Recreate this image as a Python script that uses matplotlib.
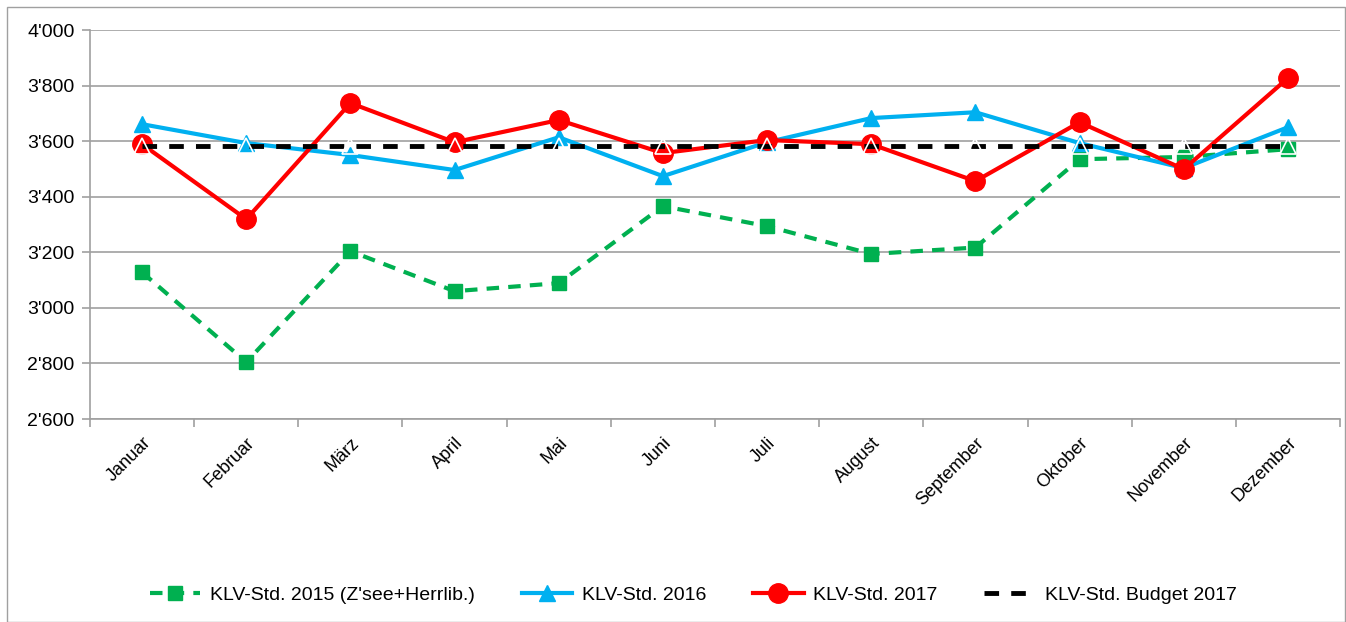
import matplotlib
matplotlib.use("Agg")
import matplotlib.pyplot as plt
from matplotlib.ticker import FuncFormatter, FixedLocator
from matplotlib.patches import Rectangle

plt.rcParams['font.family'] = ['Liberation Sans', 'DejaVu Sans']

# data
months = ["Januar", "Februar", "März", "April", "Mai", "Juni", "Juli",
          "August", "September", "Oktober", "November", "Dezember"]
std_2015 = [3128, 2805, 3204, 3060, 3089, 3366, 3294, 3194, 3217, 3535, 3543, 3571]
std_2016 = [3661, 3593, 3550, 3496, 3614, 3474, 3596, 3683, 3704, 3593, 3503, 3650]
std_2017 = [3589, 3319, 3737, 3596, 3676, 3557, 3604, 3589, 3456, 3668, 3499, 3827]
budget_2017 = [3583] * 12

GREEN = "#00B050"
BLUE = "#00B0F0"
RED = "#FF0000"

fig = plt.figure(figsize=(13.46, 6.22), dpi=100)
ax = fig.add_axes([90 / 1346, 1 - 419 / 622, 1250 / 1346, 389 / 622])

# outer chart border
fig.patches.append(Rectangle((7 / 1346, 0.0), 1338 / 1346, 615 / 622,
                             transform=fig.transFigure, fill=False,
                             edgecolor="#a0a0a0", linewidth=1.0))

x = list(range(len(months)))

ax.plot(x, std_2015, color=GREEN, linestyle=(0, (3, 2.2)), linewidth=3,
        marker="s", markersize=10, label="KLV-Std. 2015 (Z'see+Herrlib.)", zorder=3)
ax.plot(x, std_2016, color=BLUE, linewidth=3, marker="^", markersize=12,
        label="KLV-Std. 2016", zorder=4)
ax.plot(x, std_2017, color=RED, linewidth=3, marker="o", markersize=14,
        label="KLV-Std. 2017", zorder=5)
ax.plot(x, budget_2017, color="black", linestyle=(0, (3, 2.5)), linewidth=3.5,
        label="KLV-Std. Budget 2017", zorder=6)
ax.plot(x, budget_2017, linestyle="none", marker="^", markersize=12,
        markerfacecolor="none", markeredgecolor="white", markeredgewidth=1.2, zorder=7)

ax.set_xlim(-0.5, len(months) - 0.5)
ax.set_ylim(2600, 4000)
ax.set_yticks(range(2600, 4001, 200))
ax.yaxis.set_major_formatter(FuncFormatter(lambda v, p: f"{int(v) // 1000}'{int(v) % 1000:03d}"))
ax.grid(axis="y", color="#a0a0a0", linewidth=1.2)
ax.set_axisbelow(True)

ax.set_xticks(x)
ax.set_xticklabels(months, rotation=45, ha="right", va="top", rotation_mode="anchor")
ax.xaxis.set_minor_locator(FixedLocator([i - 0.5 for i in range(len(months) + 1)]))
ax.tick_params(axis="x", which="major", length=0, pad=11, labelsize=13)
ax.tick_params(axis="x", which="minor", length=6, color="#a0a0a0", width=1.2)
ax.tick_params(axis="y", length=6, color="#a0a0a0", width=1.2, labelsize=14, pad=5)

for side in ["top", "right"]:
    ax.spines[side].set_visible(False)
for side in ["left", "bottom"]:
    ax.spines[side].set_color("#a0a0a0")
    ax.spines[side].set_linewidth(1.2)

fig.legend(loc="center", bbox_to_anchor=(0.515, 1 - 595 / 622), ncol=4, frameon=False,
           fontsize=14, handlelength=2.6, columnspacing=2.4, handletextpad=0.5)

fig.savefig("out.png", dpi=100)
